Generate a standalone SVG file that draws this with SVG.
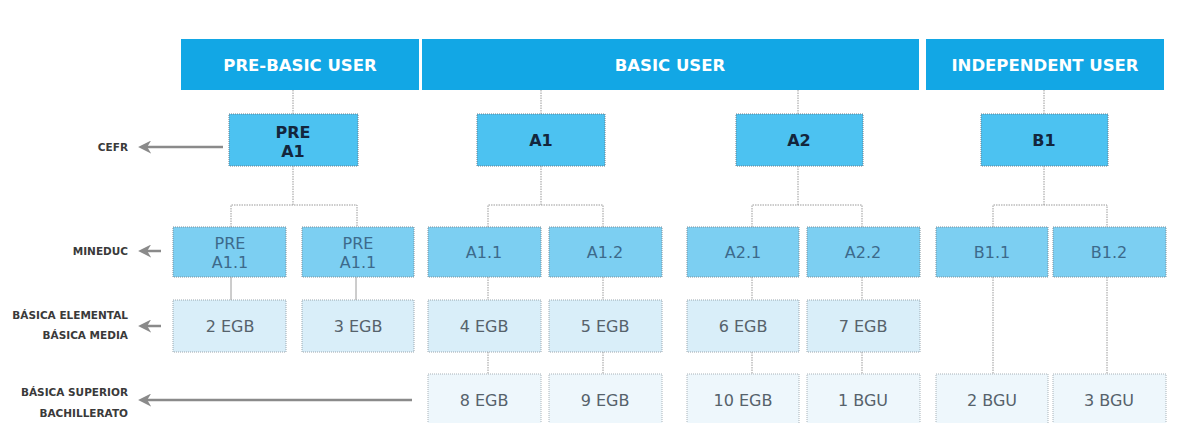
<svg xmlns="http://www.w3.org/2000/svg" width="1198" height="423" viewBox="0 0 1198 423">
<style>
text{font-family:"DejaVu Sans","Liberation Sans",sans-serif}
.hdr rect{fill:#12a7e5}
.hdr text{fill:#ffffff;font-size:16.5px;font-weight:700;text-anchor:middle}
.cefr rect{fill:#4cc2f1;stroke:#6a7e8c;stroke-width:1;stroke-dasharray:1 1}
.cefr text{fill:#13263d;font-size:16px;font-weight:700;text-anchor:middle}
.min rect{fill:#7ccff2;stroke:#7d8f9a;stroke-width:1;stroke-dasharray:1 1}
.min text{fill:#3c6a8b;font-size:16px;text-anchor:middle}
.egb rect{fill:#d9eef9;stroke:#9aa6ae;stroke-width:1;stroke-dasharray:1 1}
.egb text{fill:#56626b;font-size:16px;text-anchor:middle}
.bgu rect{fill:#eef7fc;stroke:#a8b2b8;stroke-width:1;stroke-dasharray:1 1}
.bgu text{fill:#56626b;font-size:16px;text-anchor:middle}
.lbl text{fill:#3a3a3a;font-size:10.5px;font-weight:700;text-anchor:end}
.con path{fill:none;stroke:#9a9a9a;stroke-width:1}
.con .dot{stroke-dasharray:1.5 1}
.arr path{fill:none;stroke:#8a8a8a;stroke-width:2.5}
</style>
<defs>
<marker id="ah" viewBox="0 0 10 10" refX="7" refY="5" markerUnits="userSpaceOnUse" markerWidth="13" markerHeight="13" orient="auto">
<path d="M0,0 L10,5 L0,10 L3,5 Z" fill="#8a8a8a"/>
</marker>
</defs>
<rect width="1198" height="423" fill="#ffffff"/>

<g class="con">
<path class="dot" d="M293,90V114"/>
<path class="dot" d="M541,90V114"/>
<path class="dot" d="M798,90V114"/>
<path class="dot" d="M1044,90V114"/>
<path class="dot" d="M293,166V205M231,227V205H357V227"/>
<path class="dot" d="M541,166V205M488,227V205H603V227"/>
<path class="dot" d="M798,166V205M752,227V205H862V227"/>
<path class="dot" d="M1044,166V205M993,227V205H1107V227"/>
<path d="M231,277V300"/>
<path d="M356,277V300"/>
<path class="dot" d="M488,277V300M488,352V374"/>
<path class="dot" d="M603,277V300M603,352V374"/>
<path class="dot" d="M752,277V300M752,352V374"/>
<path class="dot" d="M862,277V300M862,352V374"/>
<path class="dot" d="M993,277V374"/>
<path class="dot" d="M1107,277V374"/>
</g>

<g class="arr">
<path d="M223,147H142" marker-end="url(#ah)"/>
<path d="M161,251H142" marker-end="url(#ah)"/>
<path d="M161,326H142" marker-end="url(#ah)"/>
<path d="M412,400H142" marker-end="url(#ah)"/>
</g>

<g class="lbl">
<g id="lbl-cefr"><text x="128" y="151">CEFR</text></g>
<g id="lbl-mineduc"><text x="128" y="255">MINEDUC</text></g>
<g id="lbl-basica1"><text x="128" y="319">BÁSICA ELEMENTAL</text><text x="128" y="339">BÁSICA MEDIA</text></g>
<g id="lbl-basica2"><text x="128" y="396">BÁSICA SUPERIOR</text><text x="128" y="417">BACHILLERATO</text></g>
</g>

<g class="hdr">
<g id="h-prebasic"><rect x="181" y="39" width="238" height="51"/><text x="300" y="71">PRE-BASIC USER</text></g>
<g id="h-basic"><rect x="422" y="39" width="497" height="51"/><text x="670" y="71">BASIC USER</text></g>
<g id="h-indep"><rect x="926" y="39" width="238" height="51"/><text x="1045" y="71">INDEPENDENT USER</text></g>
</g>

<g class="cefr">
<g id="c-prea1"><rect x="229" y="114" width="129" height="52"/><text x="293" y="138">PRE</text><text x="293" y="157">A1</text></g>
<g id="c-a1"><rect x="477" y="114" width="128" height="52"/><text x="541" y="146">A1</text></g>
<g id="c-a2"><rect x="736" y="114" width="127" height="52"/><text x="799" y="146">A2</text></g>
<g id="c-b1"><rect x="981" y="114" width="127" height="52"/><text x="1044" y="146">B1</text></g>
</g>

<g class="min">
<g id="m-prea11a"><rect x="173" y="227" width="113" height="50"/><text x="230" y="249">PRE</text><text x="230" y="268">A1.1</text></g>
<g id="m-prea11b"><rect x="302" y="227" width="112" height="50"/><text x="358" y="249">PRE</text><text x="358" y="268">A1.1</text></g>
<g id="m-a11"><rect x="428" y="227" width="113" height="50"/><text x="484" y="258">A1.1</text></g>
<g id="m-a12"><rect x="549" y="227" width="113" height="50"/><text x="605" y="258">A1.2</text></g>
<g id="m-a21"><rect x="687" y="227" width="112" height="50"/><text x="743" y="258">A2.1</text></g>
<g id="m-a22"><rect x="807" y="227" width="113" height="50"/><text x="863" y="258">A2.2</text></g>
<g id="m-b11"><rect x="936" y="227" width="112" height="50"/><text x="992" y="258">B1.1</text></g>
<g id="m-b12"><rect x="1053" y="227" width="113" height="50"/><text x="1109" y="258">B1.2</text></g>
</g>

<g class="egb">
<g id="e-2"><rect x="173" y="300" width="113" height="52"/><text x="230" y="332">2 EGB</text></g>
<g id="e-3"><rect x="302" y="300" width="112" height="52"/><text x="358" y="332">3 EGB</text></g>
<g id="e-4"><rect x="428" y="300" width="113" height="52"/><text x="484" y="332">4 EGB</text></g>
<g id="e-5"><rect x="549" y="300" width="113" height="52"/><text x="605" y="332">5 EGB</text></g>
<g id="e-6"><rect x="687" y="300" width="112" height="52"/><text x="743" y="332">6 EGB</text></g>
<g id="e-7"><rect x="807" y="300" width="113" height="52"/><text x="863" y="332">7 EGB</text></g>
</g>

<g class="bgu">
<g id="b-8"><rect x="428" y="374" width="113" height="60"/><text x="484" y="406">8 EGB</text></g>
<g id="b-9"><rect x="549" y="374" width="113" height="60"/><text x="605" y="406">9 EGB</text></g>
<g id="b-10"><rect x="687" y="374" width="112" height="60"/><text x="743" y="406">10 EGB</text></g>
<g id="b-1bgu"><rect x="807" y="374" width="113" height="60"/><text x="863" y="406">1 BGU</text></g>
<g id="b-2bgu"><rect x="936" y="374" width="112" height="60"/><text x="992" y="406">2 BGU</text></g>
<g id="b-3bgu"><rect x="1053" y="374" width="113" height="60"/><text x="1109" y="406">3 BGU</text></g>
</g>
</svg>
